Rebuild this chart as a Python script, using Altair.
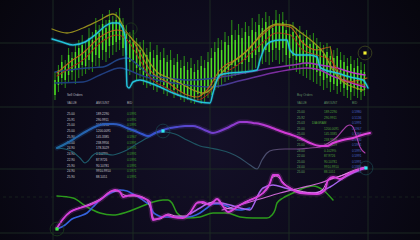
import altair as alt
import pandas as pd

W, H = 420, 240

# ---------------- data (x = time position, y = level measured from top) ----------------
grid_x = [53, 133, 210, 289, 368]
grid_y = [43, 107, 169, 233]
grid_dash_y = [197]

candle_high = [72, 65, 55, 60, 48, 52, 45, 40, 35, 42, 28, 32, 18, 25, 14, 20, 10, 16, 12, 8,
               18, 25, 32, 30, 38, 42, 40, 48, 42, 50, 45, 52, 48, 55, 50, 58, 54, 60, 56, 62,
               58, 64, 60, 56, 60, 52, 48, 42, 38, 40, 32, 36, 20, 30, 24, 28, 22, 26, 18, 22,
               14, 18, 12, 16, 20, 10, 14, 12, 20, 25, 22, 28, 26, 32, 30, 35, 33, 38, 42, 45,
               43, 46, 50, 48, 52, 55, 58, 56, 60, 58, 62, 64]
candle_low = [100, 92, 85, 88, 82, 80, 84, 78, 76, 74, 70, 72, 66, 68, 60, 62, 58, 55, 52, 50,
              56, 65, 75, 72, 80, 78, 85, 88, 86, 90, 92, 88, 94, 96, 92, 98, 96, 100, 102, 100,
              103, 104, 100, 104, 102, 98, 95, 90, 88, 85, 82, 80, 78, 76, 75, 72, 74, 70, 70, 68,
              66, 64, 62, 65, 62, 60, 64, 62, 66, 70, 68, 72, 74, 76, 78, 80, 82, 84, 86, 90,
              88, 92, 90, 94, 92, 96, 98, 100, 96, 98, 100, 96]
candle_open = [80, 70, 62, 66, 55, 58, 52, 48, 45, 50, 38, 40, 30, 33, 24, 28, 20, 22, 20, 18,
               25, 32, 40, 42, 45, 50, 52, 55, 52, 58, 55, 60, 58, 62, 60, 65, 62, 68, 66, 70,
               68, 72, 70, 66, 68, 62, 58, 52, 48, 50, 42, 45, 35, 40, 35, 38, 32, 36, 30, 32,
               25, 28, 22, 26, 28, 20, 24, 22, 30, 34, 32, 36, 35, 40, 38, 44, 42, 46, 50, 54,
               52, 56, 58, 56, 60, 62, 66, 64, 68, 66, 70, 72]
candle_close = [95, 85, 78, 80, 75, 72, 70, 68, 65, 66, 60, 62, 55, 58, 50, 52, 46, 45, 42, 40,
                48, 55, 62, 60, 68, 70, 75, 78, 76, 80, 82, 80, 85, 88, 84, 90, 88, 92, 94, 95,
                96, 98, 94, 96, 92, 88, 85, 80, 78, 75, 72, 70, 65, 66, 62, 64, 60, 62, 58, 55,
                52, 54, 50, 52, 50, 48, 50, 48, 55, 58, 56, 60, 62, 64, 66, 68, 70, 72, 76, 80,
                78, 82, 84, 86, 84, 88, 90, 92, 88, 90, 92, 90]

cyan_x = [52, 62, 73, 85, 95, 104, 112, 118, 122, 125, 126, 127, 129, 133, 140, 150, 160, 173, 187, 200,
          210, 213, 217, 220, 230, 243, 257, 260, 265, 270, 280, 287, 290, 297, 310, 317, 320, 325, 337, 350,
          363, 368]
cyan_y = [39, 42, 45, 42, 35, 27, 23, 23, 27, 36, 55, 86, 88, 82, 80, 83, 87, 93, 98, 102,
          103, 93, 80, 75, 73, 72, 70, 60, 47, 42, 40, 40, 50, 55, 55, 57, 67, 70, 73, 77,
          80, 88]

olive_x = [52, 67, 83, 100, 113, 118, 125, 133, 140, 150, 157, 167, 180, 193, 203, 212, 220, 233, 250, 263,
           277, 290, 300, 313, 323, 333, 343, 353, 363]
olive_y = [29, 33, 28, 20, 14, 17, 30, 40, 47, 63, 72, 77, 83, 90, 93, 88, 75, 62, 48, 32,
           24, 25, 32, 42, 52, 70, 82, 87, 90]

orange_x = [57, 70, 83, 100, 117, 127, 140, 150, 167, 187, 197, 207, 220, 240, 260, 277, 290, 303, 317, 330,
            334, 347, 367]
orange_y = [73, 62, 53, 37, 30, 33, 53, 70, 82, 95, 97, 90, 70, 57, 37, 25, 27, 43, 50, 47,
            66, 82, 78]

red_x = [57, 70, 83, 100, 117, 127, 140, 150, 167, 187, 197, 207, 220, 240, 260, 277, 290, 303, 317, 330,
         347, 367]
red_y = [76, 68, 60, 43, 35, 40, 60, 77, 88, 98, 100, 95, 78, 63, 45, 33, 35, 50, 55, 60,
         80, 85]

highband_x = [55, 87, 103, 120, 127, 140, 150, 167, 187, 207, 233, 260, 293, 307, 320, 337, 350, 365]
highband_y = [72, 68, 67, 59, 58, 67, 75, 78, 80, 79, 75, 70, 65, 63, 65, 68, 72, 75]

lowband_x = [55, 83, 100, 120, 140, 157, 180, 210, 243, 277, 307, 320, 330, 343, 365]
lowband_y = [83, 82, 75, 68, 75, 80, 84, 87, 80, 72, 68, 70, 75, 80, 87]

mid_x = [57, 67, 77, 87, 97, 105, 113, 120, 127, 135, 142, 148, 155, 163, 170, 177, 185, 193, 200, 207,
         213, 220, 227, 233, 240, 247, 253, 260, 267, 275, 283, 292, 300, 310, 320, 327, 333, 343, 353, 362,
         370]
mid_y = [148, 143, 137, 131, 126, 124, 124, 125, 128, 131, 134, 136, 133, 130, 128, 127, 126, 126, 128, 131,
         133, 131, 128, 125, 122, 122, 123, 124, 126, 129, 132, 135, 138, 143, 146, 146, 143, 140, 138, 135,
         133]

teal_x = [57, 65, 73, 80, 85, 88, 92, 97, 105, 113, 120, 127, 135, 147, 157, 165, 175, 187, 200, 210,
          220, 230, 240, 250, 257, 262, 267, 273, 285, 297, 310, 320, 330, 337, 343, 347, 350, 353, 356, 360,
          365]
teal_y = [148, 149, 152, 158, 163, 161, 156, 153, 154, 155, 153, 150, 145, 138, 133, 132, 134, 140, 146, 148,
          150, 153, 158, 165, 169, 160, 153, 150, 149, 149, 148, 147, 142, 137, 130, 126, 125, 127, 135, 147,
          153]

green_x = [57, 73, 87, 100, 113, 127, 140, 153, 163, 168, 172, 177, 187, 200, 213, 227, 240, 253, 267, 272,
           275, 277, 283, 293, 307, 313, 323, 333]
green_y = [196, 198, 207, 213, 215, 212, 207, 202, 200, 200, 203, 213, 218, 217, 213, 213, 217, 218, 218, 215,
           210, 203, 198, 193, 187, 186, 190, 200]

blue_x = [57, 65, 72, 80, 87, 93, 100, 107, 113, 120, 127, 133, 140, 147, 150, 153, 157, 163, 173, 187,
          200, 207, 213, 220, 227, 233, 240, 250]
blue_y = [229, 225, 219, 216, 213, 207, 200, 195, 192, 190, 191, 194, 198, 203, 205, 212, 215, 217, 217, 217,
          213, 208, 204, 204, 206, 209, 210, 208]

mag_x = [57, 63, 70, 80, 90, 100, 110, 115, 120, 123, 127, 133, 143, 150, 152, 153, 160, 167, 173, 183,
         190, 197, 203, 210, 217, 222, 228, 240, 250, 263, 270, 273, 278, 282, 290, 300, 317, 325, 328, 333,
         340, 347, 357, 365]
mag_y = [228, 219, 212, 208, 205, 200, 192, 190, 192, 197, 196, 195, 198, 202, 217, 220, 218, 215, 217, 218,
         213, 203, 202, 205, 199, 205, 212, 205, 200, 193, 183, 175, 175, 182, 188, 193, 194, 190, 180, 177,
         179, 175, 170, 168]

mag2_x = [57, 65, 72, 82, 92, 102, 112, 118, 124, 130, 138, 146, 151, 154, 160, 168, 176, 185, 192, 198,
          205, 212, 218, 224, 232, 245, 258, 268, 272, 276, 281, 288, 300, 315, 323, 327, 332, 338, 345, 355,
          365]
mag2_y = [228, 217, 211, 207, 203, 198, 191, 191, 195, 196, 196, 199, 210, 219, 219, 214, 216, 216, 210, 202,
          204, 202, 199, 207, 209, 202, 196, 188, 178, 176, 180, 187, 191, 193, 189, 182, 178, 177, 174, 170,
          167]

violet_x = [190, 200, 210, 220, 230, 240, 250, 254, 258, 263, 273, 285, 300, 313, 330, 345, 355, 365]
violet_y = [214, 208, 203, 203, 205, 208, 210, 204, 195, 188, 185, 188, 192, 193, 187, 177, 172, 168]

pink_x = [222, 240, 260, 280, 300, 320, 340, 365]
pink_y = [210, 205, 199, 193, 188, 183, 176, 168]

sell_values = ["25.00", "25.91", "25.00", "25.00", "25.90", "25.00", "24.90", "24.90", "22.90", "25.90", "24.90", "25.90"]
sell_amounts = ["189.2290", "290.9911", "104.9230", "1200.0091", "145.3385", "238.9956", "178.3029", "0.1029%",
                "87.9726", "90.10781", "9910.9910", "88.1051"]
sell_bids = ["0.5991", "0.5991", "0.5991", "0.5967", "0.5967", "0.5991", "0.5991", "0.5991", "0.5991", "0.5991",
             "0.5971", "0.5991"]
buy_values = ["25.00", "25.92", "25.03", "25.00", "25.00", "25.00", "25.00", "28.00", "22.00", "25.00", "24.00", "25.00"]
buy_amounts = ["189.2290", "290.9911", "", "1200.0091", "145.3385", "238.9956", "178.3029", "0.1029%",
               "87.9726", "90.10781", "9910.9910", "88.1051"]
buy_bids = ["0.5980", "0.5136", "0.5991", "0.5967", "0.5967", "0.5980", "0.5991", "0.5991", "0.5991", "0.5991",
            "0.5991", "0.5991"]
headers = ["VALUE", "AMOUNT", "BID"]

# markers: (x, y)
marker_yellow = [(365, 53)]
marker_cyan = [(163, 131), (366, 168)]
marker_green = [(57, 229)]
ring_only = [(131, 29)]

# ---------------- helpers ----------------
XS = alt.Scale(domain=[0, W], nice=False, zero=False)
YS = alt.Scale(domain=[0, H], nice=False, zero=False, reverse=True)


def X(f="x"):
    return alt.X(f"{f}:Q", scale=XS, axis=None)


def Y(f="y"):
    return alt.Y(f"{f}:Q", scale=YS, axis=None)


def lg(stops):
    return alt.LinearGradient(gradient="linear",
                              stops=[alt.GradientStop(color=c, offset=o) for o, c in stops],
                              x1=0, x2=1, y1=0, y2=0)


def curve(xs, ys, stroke, width, opacity=1.0, dash=None, interp="monotone"):
    df = pd.DataFrame({"x": xs, "y": ys, "i": list(range(len(xs)))})
    props = dict(stroke=stroke, strokeWidth=width, opacity=opacity, interpolate=interp,
                 strokeCap="round", strokeJoin="round")
    if dash is not None:
        props["strokeDash"] = dash
    return alt.Chart(df).mark_line(**props).encode(x=X(), y=Y(), order=alt.Order("i:Q"))


layers = []

# background vignette
bg = alt.Chart(pd.DataFrame({"a": [0]})).mark_rect(
    fill=alt.RadialGradient(gradient="radial",
                            stops=[alt.GradientStop(color="#141028", offset=0),
                                   alt.GradientStop(color="#0b0918", offset=0.55),
                                   alt.GradientStop(color="#030305", offset=1)],
                            x1=0.5, y1=0.55, r1=0, x2=0.5, y2=0.55, r2=0.75)
).encode(x=alt.value(0), x2=alt.value(W), y=alt.value(0), y2=alt.value(H))
layers.append(bg)

# grid
layers.append(alt.Chart(pd.DataFrame({"x": grid_x})).mark_rule(color="#1e2e24", strokeWidth=0.9).encode(x=X()))
layers.append(alt.Chart(pd.DataFrame({"y": grid_y})).mark_rule(color="#1e2e24", strokeWidth=0.9).encode(y=Y()))
layers.append(alt.Chart(pd.DataFrame({"y": grid_dash_y})).mark_rule(color="#1a271f", strokeWidth=0.8,
                                                                     strokeDash=[3, 3]).encode(y=Y()))

# candles
n = len(candle_high)
cdf = pd.DataFrame({"x": [55 + 3.4 * k for k in range(n)], "hi": candle_high, "lo": candle_low,
                    "op": candle_open, "cl": candle_close})
layers.append(alt.Chart(cdf).mark_rule(color="#36c414", strokeWidth=0.8, opacity=0.9).encode(
    x=X(), y=Y("hi"), y2=alt.Y2("lo:Q")))
layers.append(alt.Chart(cdf).mark_rule(color="#4fe424", strokeWidth=1.5, opacity=0.95).encode(
    x=X(), y=Y("op"), y2=alt.Y2("cl:Q")))

# top moving averages
layers.append(curve(lowband_x, lowband_y, lg([(0, "#1b3d7a"), (0.5, "#2a3f8a"), (0.7, "#7a2c9e"), (1, "#c232c6")]), 1.4))
layers.append(curve(highband_x, highband_y, lg([(0, "#1a4282"), (0.5, "#2a468a"), (0.7, "#8030a8"), (1, "#c83ccf")]), 1.4))
layers.append(curve(red_x, red_y, "#a82c18", 1.1, dash=[2, 1.5]))
layers.append(curve(orange_x, orange_y, "#c4621c", 1.1, opacity=0.9))
layers.append(curve(olive_x, olive_y, "#a39a1e", 1.3, opacity=0.9))
layers.append(curve(cyan_x, cyan_y, "#22c4dc", 3.5, opacity=0.15))
layers.append(curve(cyan_x, cyan_y, "#24c2da", 1.5))

# tables
recs = []
rows_sell = [113.8 + 5.73 * k for k in range(12)]
rows_buy = [112.3 + 5.45 * k for k in range(12)]
recs.append(dict(x=67, y=95, t="Sell Orders", c="#b8b8c0"))
recs.append(dict(x=297, y=94.5, t="Buy Orders", c="#5f8a62"))
for hx, h in zip([67, 96, 127], headers):
    recs.append(dict(x=hx, y=103.3, t=h, c="#a8a8b0"))
for hx, h in zip([297, 324, 352], headers):
    recs.append(dict(x=hx, y=102.8, t=h, c="#5c8a60"))
for k in range(12):
    recs.append(dict(x=67, y=rows_sell[k], t=sell_values[k], c="#c8c8d0"))
    recs.append(dict(x=96, y=rows_sell[k], t=sell_amounts[k], c="#c8c8d0"))
    recs.append(dict(x=127, y=rows_sell[k], t=sell_bids[k], c="#3fa02c"))
    recs.append(dict(x=297, y=rows_buy[k], t=buy_values[k], c="#63a060"))
    if buy_amounts[k]:
        recs.append(dict(x=324, y=rows_buy[k], t=buy_amounts[k], c="#4fa038"))
    recs.append(dict(x=352, y=rows_buy[k], t=buy_bids[k], c="#4a64c8"))
recs.append(dict(x=312, y=rows_buy[2], t="DIAGRAM", c="#4fa038"))
tdf = pd.DataFrame(recs)
layers.append(alt.Chart(tdf).mark_text(align="left", baseline="middle", fontSize=3.1,
                                       font="Liberation Sans").encode(
    x=X(), y=Y(), text="t:N", color=alt.Color("c:N", scale=None)))

# middle panel
layers.append(curve(teal_x, teal_y, lg([(0, "#1c5c6c"), (0.55, "#1e5360"), (0.72, "#5a4a72"),
                                        (0.9, "#9a3aa0"), (1, "#b040b0")]), 1.1))
mid_grad = lg([(0, "#1e6aa0"), (0.3, "#3552d0"), (0.52, "#7a3ccc"), (0.72, "#d23ad6"), (1, "#e045dc")])
layers.append(curve(mid_x, mid_y, mid_grad, 5, opacity=0.2))
layers.append(curve(mid_x, mid_y, mid_grad, 2))

# bottom panel
layers.append(curve(green_x, green_y, "#2c9a1c", 1.5))
layers.append(curve(blue_x, blue_y, "#3462dc", 1.6))
layers.append(curve(pink_x, pink_y, "#e070e6", 1.2, opacity=0.9))
layers.append(curve(violet_x, violet_y, "#a664ee", 1.5))
layers.append(curve(mag_x, mag_y, "#d040d6", 5, opacity=0.2))
layers.append(curve(mag2_x, mag2_y, "#f08af0", 1.0, opacity=0.9))
layers.append(curve(mag_x, mag_y, "#d840dc", 1.8))

# markers
def ring(pts, color, size=190, sw=1.0):
    df = pd.DataFrame({"x": [p[0] for p in pts], "y": [p[1] for p in pts]})
    return alt.Chart(df).mark_point(shape="circle", filled=False, size=size, color=color,
                                    strokeWidth=sw).encode(x=X(), y=Y())


def dot(pts, color, size=10):
    df = pd.DataFrame({"x": [p[0] for p in pts], "y": [p[1] for p in pts]})
    return alt.Chart(df).mark_point(shape="square", filled=True, size=size, color=color,
                                    opacity=1).encode(x=X(), y=Y())


layers.append(ring(marker_yellow, "#4a5420"))
layers.append(ring(marker_cyan, "#1c4a52"))
layers.append(ring(marker_green, "#1e4a1e"))
layers.append(ring(ring_only, "#22401c", size=150))
layers.append(dot(marker_yellow, "#f2f030"))
layers.append(dot(marker_cyan, "#30e8f0"))
layers.append(dot(marker_green, "#40f040"))

chart = alt.layer(*layers).properties(
    width=W, height=H, padding=0, autosize=alt.AutoSizeParams(type="none"),
    background="#050409"
).configure_view(stroke=None)

chart.save("out.html", embed_options={"renderer": "svg", "actions": False})
